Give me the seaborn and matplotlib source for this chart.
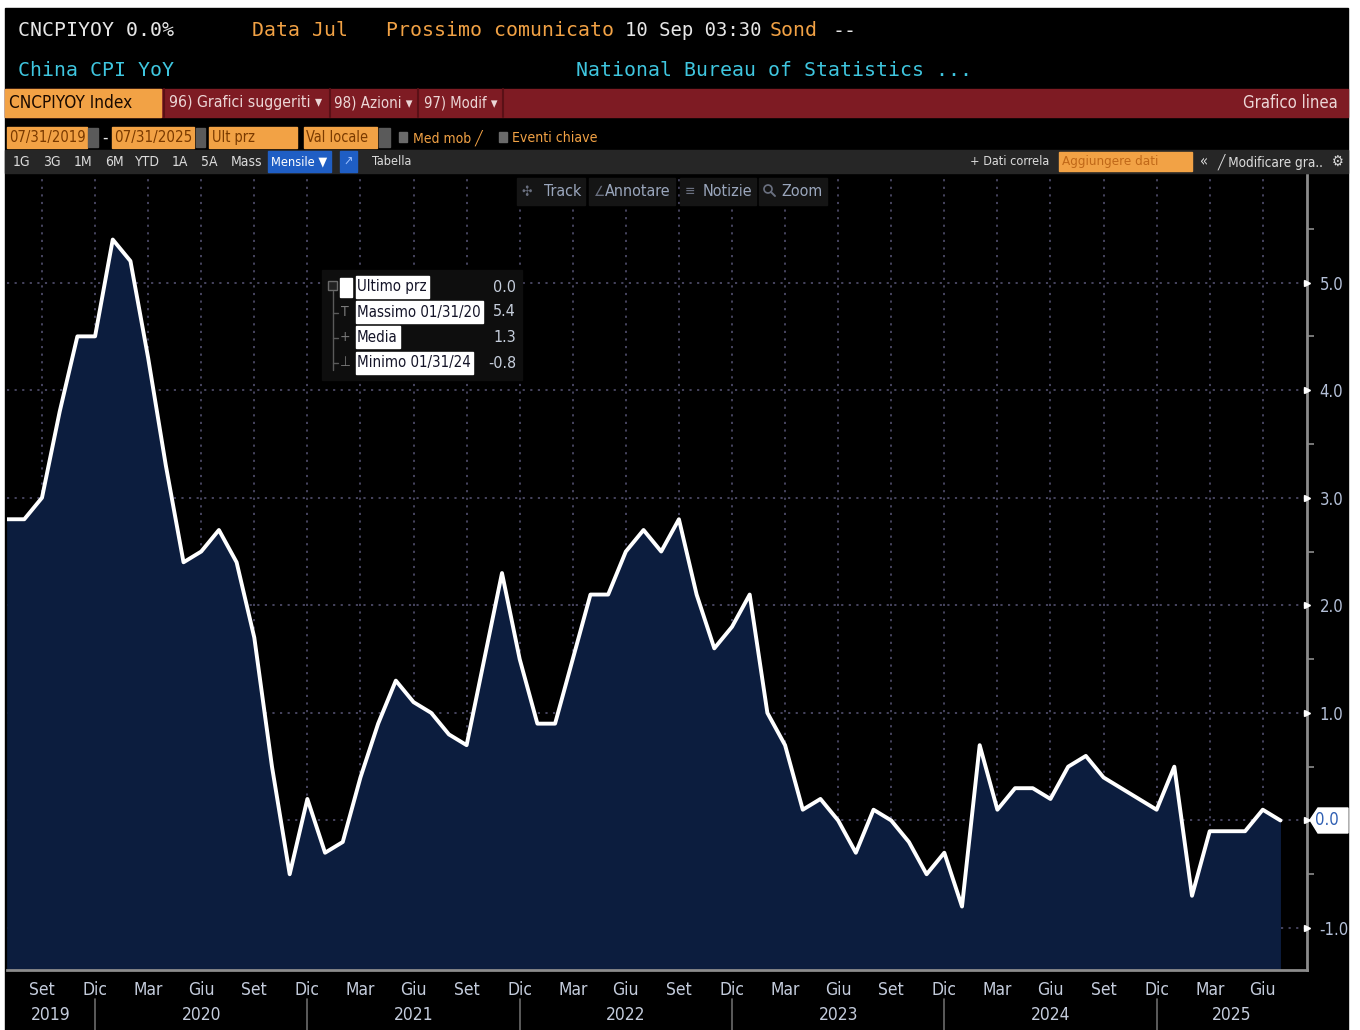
import matplotlib
matplotlib.use("Agg")
import matplotlib.pyplot as plt
import seaborn as sns
import numpy as np
from matplotlib.patches import Rectangle, Polygon, Circle
from matplotlib import font_manager
from matplotlib.font_manager import FontProperties

# China CPI YoY, mensile, Jul 2019 -> Jul 2025
cpi_2019 = [2.8, 2.8, 3.0, 3.8, 4.5, 4.5]
cpi_2020 = [5.4, 5.2, 4.3, 3.3, 2.4, 2.5, 2.7, 2.4, 1.7, 0.5, -0.5, 0.2]
cpi_2021 = [-0.3, -0.2, 0.4, 0.9, 1.3, 1.1, 1.0, 0.8, 0.7, 1.5, 2.3, 1.5]
cpi_2022 = [0.9, 0.9, 1.5, 2.1, 2.1, 2.5, 2.7, 2.5, 2.8, 2.1, 1.6, 1.8]
cpi_2023 = [2.1, 1.0, 0.7, 0.1, 0.2, 0.0, -0.3, 0.1, 0.0, -0.2, -0.5, -0.3]
cpi_2024 = [-0.8, 0.7, 0.1, 0.3, 0.3, 0.2, 0.5, 0.6, 0.4, 0.3, 0.2, 0.1]
cpi_2025 = [0.5, -0.7, -0.1, -0.1, -0.1, 0.1, 0.0]
cpi = cpi_2019 + cpi_2020 + cpi_2021 + cpi_2022 + cpi_2023 + cpi_2024 + cpi_2025
mesi = np.arange(len(cpi))  # 0 = Jul 2019

mesi_label = ["Set", "Dic", "Mar", "Giu"]
anni = ["2019", "2020", "2021", "2022", "2023", "2024", "2025"]
y_ticks = [-1.0, 0.0, 1.0, 2.0, 3.0, 4.0, 5.0]

legenda_nomi = ["Ultimo prz", "Massimo 01/31/20", "Media", "Minimo 01/31/24"]
legenda_valori = ["0.0", "5.4", "1.3", "-0.8"]

sns.set_theme(style="dark")
plt.rcParams["font.family"] = ["DejaVu Sans"]

# font stretto se c'e', altrimenti DejaVu Sans normale
narrow_path = None
for pref in ["DejaVuSansCondensed.ttf", "LiberationSansNarrow-Regular.ttf"]:
    for f in font_manager.findSystemFonts():
        if f.endswith(pref):
            narrow_path = f
            break
    if narrow_path:
        break
if narrow_path:
    font_manager.fontManager.addfont(narrow_path)
    NARROW = FontProperties(fname=narrow_path)
else:
    NARROW = FontProperties(family="DejaVu Sans")

W, H = 1360, 1030
fig = plt.figure(figsize=(W / 100, H / 100), dpi=100, facecolor="white")
renderer = fig.canvas.get_renderer()

# sfondo nero del terminale
bg = fig.add_axes([0, 0, 1, 1], zorder=0)
bg.set_xlim(0, W); bg.set_ylim(H, 0); bg.axis("off")
bg.add_patch(Rectangle((5, 8), 1343, 1022, color="black"))

# area del grafico
L, R, T, B = 6.6, 1307, 175, 970
ax = fig.add_axes([L / W, 1 - B / H, (R - L) / W, (B - T) / H], zorder=1)
ax.set_facecolor("black")
ymin, ymax = -1.39, 6.0
ax.set_xlim(0, 73.5)
ax.set_ylim(ymin, ymax)

ax.fill_between(mesi, cpi, ymin, color="#0c1d3e", zorder=2, linewidth=0)
sns.lineplot(x=mesi, y=cpi, ax=ax, color="white", linewidth=2.8, zorder=3)

for s in ["top", "left"]:
    ax.spines[s].set_visible(False)
for s in ["right", "bottom"]:
    ax.spines[s].set_color("#8c8c8c")
    ax.spines[s].set_linewidth(2)

# asse x
major_x = list(range(2, len(cpi), 3))
ax.set_xticks(major_x)
ax.set_xticklabels([mesi_label[i % 4] for i in range(len(major_x))])
ax.set_xticks(range(0, 74), minor=True)
ax.tick_params(axis="x", which="both", colors="#8c8c8c", direction="out", length=5, width=1.2)
ax.tick_params(axis="x", which="major", labelcolor="#c4ccdc", pad=3)
for lb in ax.get_xticklabels():
    lb.set_fontproperties(NARROW); lb.set_fontsize(12.5)

# asse y a destra
ax.yaxis.tick_right()
ax.set_yticks(y_ticks)
ax.set_yticklabels(["" if v == 0 else f"{v:.1f}" for v in y_ticks])
ax.set_yticks(np.arange(-1.0, 6.0, 0.5), minor=True)
ax.tick_params(axis="y", which="major", length=0, pad=9, labelcolor="#b4c0d8")
ax.tick_params(axis="y", which="minor", length=5, width=1.2, colors="#8c8c8c", direction="out")
for lb in ax.get_yticklabels():
    lb.set_fontproperties(NARROW); lb.set_fontsize(12)
ax.plot([73.5] * len(y_ticks), y_ticks, marker=">", color="white", markersize=5,
        linestyle="none", clip_on=False, zorder=5)

ax.grid(True, which="major", axis="both", color="#4c4a66", linestyle=(0, (1.2, 3)), linewidth=1.3)
for gl in ax.get_xgridlines() + ax.get_ygridlines():
    gl.set_zorder(2.5)

xt = ax.get_xaxis_transform()
for d in [5, 17, 29, 41, 53, 65]:
    ax.plot([d, d], [-0.037, -0.08], color="#6a6a6a", lw=1.2, transform=xt, clip_on=False)
bordi = [0, 5, 17, 29, 41, 53, 65, 73.5]
for k, a in enumerate(anni):
    ax.text((bordi[k] + bordi[k + 1]) / 2, -0.056, a, transform=xt, ha="center", va="center",
            color="#c4ccdc", fontproperties=NARROW, fontsize=12.5)

# livello superiore: testo e pulsanti dell'interfaccia
fg = fig.add_axes([0, 0, 1, 1], zorder=3)
fg.set_xlim(0, W); fg.set_ylim(H, 0); fg.axis("off"); fg.patch.set_alpha(0)

ORANGE = "#f2a245"
WHITE = "#e6e6e6"
CYAN = "#3fc6df"
MONO = ["DejaVu Sans Mono", "DejaVu Sans"]

def txt(x, y, s, c=WHITE, size=11, ha="left", width=None, mono=False, zorder=3):
    if mono:
        t = fg.text(x, y, s, color=c, fontsize=size, family=MONO, ha=ha, va="center", zorder=zorder)
    else:
        t = fg.text(x, y, s, color=c, fontproperties=NARROW, ha=ha, va="center", zorder=zorder)
        t.set_fontsize(size)
    if width:
        w = t.get_window_extent(renderer).width
        t.set_fontsize(min(max(size * width / w, size * 0.7), size * 1.25))
    return t

def box(x, y, w, h, c, **kw):
    fg.add_patch(Rectangle((x, y), w, h, color=c, **kw))

# riga 1 e 2
txt(18, 31, "CNCPIYOY 0.0%", WHITE, 14.3, mono=True)
txt(252, 31, "Data Jul", ORANGE, 14.3, mono=True)
txt(386, 31, "Prossimo comunicato", ORANGE, 14.3, mono=True)
txt(625, 31, "10 Sep 03:30", WHITE, 13.6, mono=True)
txt(770, 31, "Sond", ORANGE, 14.3, mono=True)
txt(832, 31, "--", WHITE, 14.3, mono=True)
txt(18, 70, "China CPI YoY", CYAN, 14.3, mono=True)
txt(576, 70, "National Bureau of Statistics ...", CYAN, 14.3, mono=True)

# barra rossa
box(5, 89, 1343, 28, "#7e1b23")
box(5, 89, 156, 28, ORANGE)
txt(9, 103, "CNCPIYOY Index", "#1a0a00", 14, width=124)
for sx in [164, 330, 418, 503]:
    fg.plot([sx, sx], [89, 117], color="#5a1016", lw=1.5)
txt(169, 103, "96) Grafici suggeriti ▾", "#ecd6d6", 14, width=153)
txt(334, 103, "98) Azioni ▾", "#ecd6d6", 14, width=79)
txt(424, 103, "97) Modif ▾", "#ecd6d6", 14, width=74)
txt(1338, 103, "Grafico linea", "#ecd6d6", 14, ha="right", width=95)

# riga date
DARKO = "#7a3a00"
box(7, 127, 80, 21, ORANGE); txt(9, 137.5, "07/31/2019", DARKO, 12, width=76)
box(88, 128, 10, 19, "#5a5a5a")
txt(102, 137.5, "-", WHITE, 12)
box(112, 127, 82, 21, ORANGE); txt(114, 137.5, "07/31/2025", DARKO, 12, width=78)
box(196, 128, 9, 19, "#5a5a5a")
box(209, 127, 88, 21, ORANGE); txt(212, 137.5, "Ult prz", DARKO, 12, width=43)
box(304, 127, 73, 21, ORANGE); txt(306, 137.5, "Val locale", DARKO, 12, width=62)
box(379, 128, 11, 19, "#5a5a5a")
box(399, 132, 8, 10, "#6a6a6a")
txt(413, 137.5, "Med mob ╱", ORANGE, 12, width=70)
box(499, 132, 8, 10, "#6a6a6a")
txt(512, 137.5, "Eventi chiave", ORANGE, 12, width=85)

# barra grigia
box(5, 150, 1343, 23, "#262626")
for x0, s in zip([13, 43, 74, 105, 135, 172, 201, 231],
                 ["1G", "3G", "1M", "6M", "YTD", "1A", "5A", "Mass"]):
    txt(x0, 161.5, s, "#dcdcdc", 10)
box(268, 151, 63, 21, "#1f5ec4"); txt(271, 161.5, "Mensile ▼", "white", 10.5, width=57)
box(340, 151, 17, 21, "#1f5ec4"); txt(343, 161.5, "↗", "#9cc0ff", 9)
txt(372, 161.5, "Tabella", "#dcdcdc", 10.5, width=40)
txt(970, 161.5, "+ Dati correla", "#dcdcdc", 10.5, width=80)
box(1059, 152, 133, 19, ORANGE); txt(1062, 161.5, "Aggiungere dati", "#c06818", 10.5, width=98)
txt(1200, 161.5, "«", "#dcdcdc", 10.5)
txt(1218, 161.5, "╱ Modificare gra..", "#dcdcdc", 10.5, width=107)
txt(1338, 161.5, "⚙", "#dcdcdc", 10.5, ha="center")

# barra strumenti nel grafico
for x0, w, ic, s in [(517, 68, "✣", "Track"), (589, 86, "∠", "Annotare"),
                     (680, 76, "≡", "Notizie"), (759, 68, "", "Zoom")]:
    box(x0, 178, w, 27, "#151515")
    if ic:
        txt(x0 + 5, 191.5, ic, "#6a7080", 10)
    txt(x0 + w - 4, 191.5, s, "#9aa6bc", 11.5, ha="right")
fg.add_patch(Circle((768, 189), 4, fill=False, ec="#6a7080", lw=1.2))
fg.plot([771, 775], [192, 196], color="#6a7080", lw=1.4)

# legenda
box(322, 270, 200, 110, "#0e0e0e")
fg.plot([333, 333], [291, 370], color="#5a5a5a", lw=1)
for yy in [313, 338, 363]:
    fg.plot([333, 338], [yy, yy], color="#5a5a5a", lw=1)
box(328, 281, 9, 9, "#222222", ec="#6a6a6a")
box(340, 278, 12, 19, "white")
ys = [287, 312, 337, 363]
for yy, n, v in zip(ys, legenda_nomi, legenda_valori):
    t = txt(357, yy, n, "#141428", 10.8, zorder=4)
    tw = t.get_window_extent(renderer).width
    box(356, yy - 11, tw + 3, 22, "white", zorder=3.5)
    txt(516, yy, v, "#c6cedc", 11.5, ha="right")
txt(345, 312, "T", "#7a7a7a", 10, ha="center")
txt(345, 337, "+", "#7a7a7a", 10, ha="center")
txt(345, 362, "⊥", "#7a7a7a", 10, ha="center")

# etichetta ultimo valore
fg.add_patch(Polygon([[1310, 820], [1318, 808], [1348, 808], [1348, 833], [1318, 833]],
                     closed=True, color="white"))
txt(1327, 820, "0.0", "#2f5fb3", 12, ha="center")

fig.savefig("out.png", dpi=100, facecolor="white")
